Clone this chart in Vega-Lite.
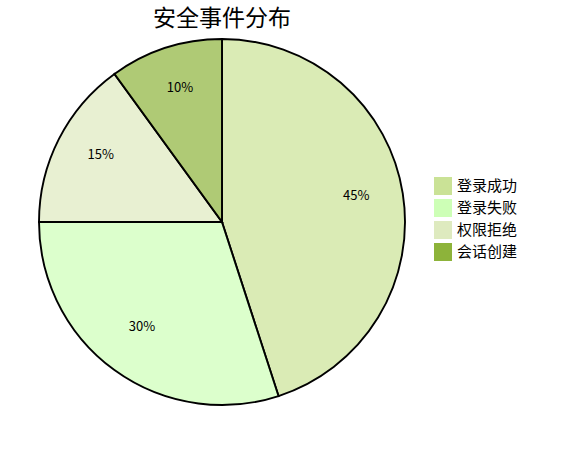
{
  "$schema": "https://vega.github.io/schema/vega-lite/v6.json",
  "autosize": "none",
  "width": 444,
  "height": 372,
  "padding": {"top": 36, "left": 0, "right": 136, "bottom": 42},
  "background": "white",
  "title": {
    "text": "安全事件分布",
    "font": "Noto Sans CJK SC",
    "fontSize": 23,
    "fontWeight": "normal",
    "color": "#000000",
    "anchor": "middle",
    "offset": 4
  },
  "data": {
    "values": [
      {"type": "登录成功", "value": 45, "label": "45%"},
      {"type": "登录失败", "value": 30, "label": "30%"},
      {"type": "权限拒绝", "value": 15, "label": "15%"},
      {"type": "会话创建", "value": 10, "label": "10%"}
    ]
  },
  "encoding": {
    "theta": {"field": "value", "type": "quantitative", "stack": true},
    "order": {"field": "value", "type": "quantitative", "sort": "descending"}
  },
  "layer": [
    {
      "mark": {"type": "arc", "outerRadius": 183, "stroke": "#000000", "strokeWidth": 1.9, "fillOpacity": 0.7},
      "encoding": {
        "color": {
          "field": "type",
          "type": "nominal",
          "sort": ["登录成功", "登录失败", "权限拒绝", "会话创建"],
          "scale": {
            "domain": ["登录成功", "登录失败", "权限拒绝", "会话创建"],
            "range": ["#cae296", "#cdffb6", "#deeabf", "#8db33a"]
          },
          "legend": {
            "title": null,
            "orient": "none",
            "legendX": 434,
            "legendY": 141,
            "symbolType": "square",
            "symbolSize": 324,
            "symbolStrokeWidth": 0,
            "symbolOpacity": 1,
            "labelFont": "Noto Sans CJK SC",
            "labelFontSize": 15,
            "labelColor": "#000000",
            "rowPadding": 4,
            "labelOffset": 5
          }
        }
      }
    },
    {
      "mark": {"type": "text", "radius": 136, "dy": -5, "font": "Noto Sans CJK SC", "fontSize": 13, "color": "#000000"},
      "encoding": {
        "text": {"field": "label"}
      }
    }
  ]
}
